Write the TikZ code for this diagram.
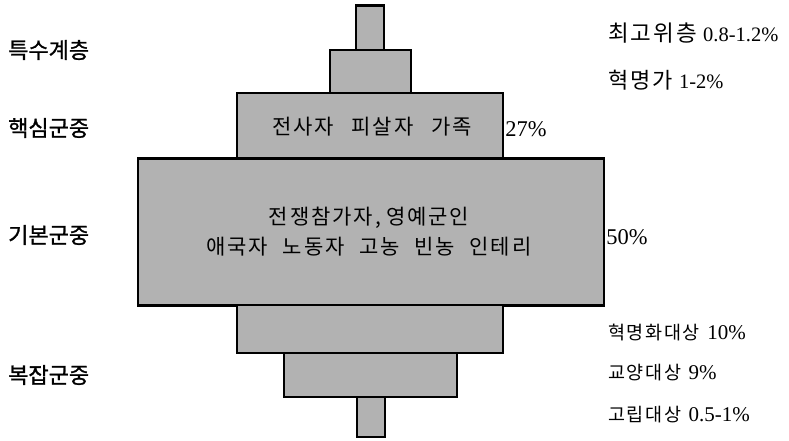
\documentclass[tikz,border=0pt]{standalone}
\usepackage{fontspec}
\setmainfont{Liberation Serif}
\newfontfamily\kr[LetterSpace=9]{Noto Sans CJK KR}
\newfontfamily\krb[FakeBold=1.2]{Noto Sans CJK KR}
\begin{document}
\begin{tikzpicture}[x=1pt,y=-1pt,
  box/.style={draw=black, line width=2.4pt, fill=black!30, rectangle, inner sep=0pt},
  leftlab/.style={anchor=west, inner sep=0pt, font=\krb\fontsize{22}{26}\selectfont},
  toplab/.style={anchor=west, inner sep=0pt, font=\fontsize{20.5}{24}\selectfont},
  botlab/.style={anchor=west, inner sep=0pt, font=\fontsize{21}{24}\selectfont},
  pct/.style={anchor=west, inner sep=1pt, font=\fontsize{22.5}{26}\selectfont},
  intext/.style={align=center, font=\kr\fontsize{21}{30}\selectfont}]
\useasboundingbox (0,0) rectangle (789,440);
% boxes (top to bottom)
\node[box, minimum width=28, minimum height=45] (b1) at (370,28) {};
\node[box, minimum width=81, minimum height=44] (b2) at (370.5,72) {};
\node[box, minimum width=266, minimum height=66] (b3) at (370,126) {};
\node[box, minimum width=466, minimum height=147] (b4) at (371,232) {};
\node[box, minimum width=266, minimum height=48] (b5) at (370,329) {};
\node[box, minimum width=173, minimum height=44] (b6) at (370.5,375) {};
\node[box, minimum width=28, minimum height=40] (b7) at (371,417) {};
% inner texts
\node[intext] (t3) at (372,127) {전사자\hspace{0.85em}피살자\hspace{0.85em}가족};
\node[intext] (t4) at (369,232) {전쟁참가자,\hspace{0.25em}영예군인\\애국자\hspace{0.7em}노동자\hspace{0.7em}고농\hspace{0.7em}빈농\hspace{0.7em}인테리};
% percentages at boxes
\node[pct] (p3) at (b3.east |- 0,129) {27\%};
\node[pct] (p4) at (b4.east |- 0,237) {50\%};
% left labels
\node[leftlab] (l1) at (8,50) {특수계층};
\node[leftlab] (l2) at (8,128) {핵심군중};
\node[leftlab] (l3) at (8,235) {기본군중};
\node[leftlab] (l4) at (8,375) {복잡군중};
% right labels
\node[toplab] (r1) at (608,33) {{\kr\fontsize{22.5}{26}\selectfont 최고위층}\hspace{0.3em}0.8-1.2\%};
\node[toplab] (r2) at (608,80) {{\kr\fontsize{22}{26}\selectfont 혁명가}\hspace{0.3em}1-2\%};
\node[botlab] (r3) at (608,332) {{\kr\fontsize{18.5}{22}\selectfont 혁명화대상}\hspace{0.35em}10\%};
\node[botlab] (r4) at (608,373) {{\kr\fontsize{18.5}{22}\selectfont 교양대상}\hspace{0.35em}9\%};
\node[botlab] (r5) at (608,415) {{\kr\fontsize{18.5}{22}\selectfont 고립대상}\hspace{0.35em}0.5-1\%};
\end{tikzpicture}
\end{document}
